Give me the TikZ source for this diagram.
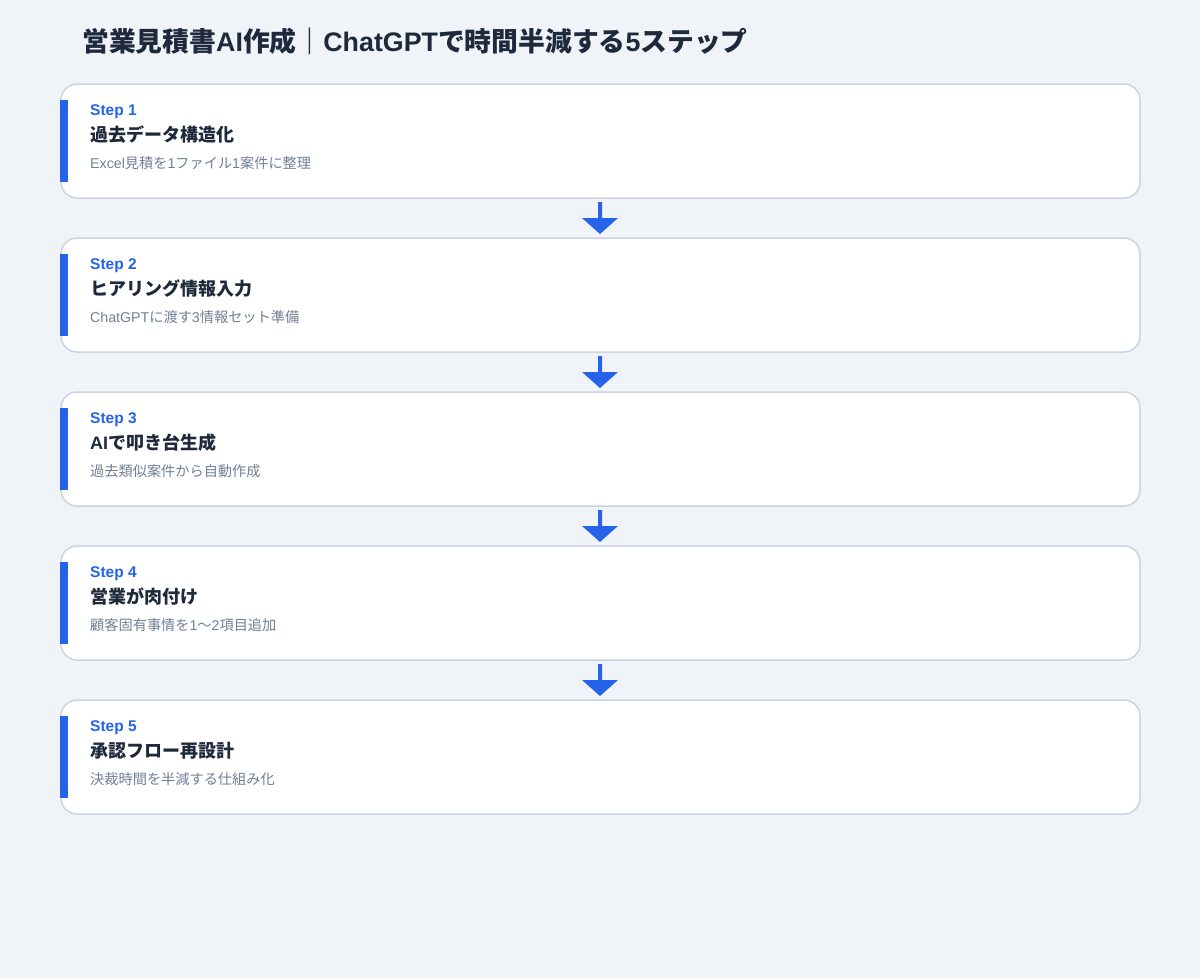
\documentclass[tikz,border=0pt]{standalone}
\usepackage{fontspec}
\setmainfont{Noto Sans CJK JP}
\newfontfamily\lat{Liberation Sans}
\definecolor{bgc}{HTML}{F0F3F8}
\definecolor{boxline}{HTML}{CBD5E1}
\definecolor{accent}{HTML}{2563EB}
\definecolor{ink}{HTML}{1E293B}
\definecolor{subink}{HTML}{718096}
\tikzset{
  stepcard/.style={draw=boxline, line width=1.5pt, fill=white, rounded corners=16pt},
  accentbar/.style={fill=accent, draw=none},
  steplabel/.style={anchor=base west, inner sep=0pt, text=accent, font=\fontsize{15.5}{18}\selectfont\lat\bfseries},
  stephead/.style={anchor=base west, inner sep=0pt, text=ink, font=\fontsize{18}{22}\selectfont\bfseries},
  stepsub/.style={anchor=base west, inner sep=0pt, text=subink, font=\fontsize{14.2}{17}\selectfont},
  titletext/.style={anchor=base west, inner sep=0pt, text=ink, font=\fontsize{26.8}{32}\selectfont\bfseries},
  flowarrow/.style={fill=accent, draw=none}
}
\begin{document}
\begin{tikzpicture}[x=1pt, y=-1pt]
\fill[bgc] (0,0) rectangle (1200,978);
\useasboundingbox (0,0) rectangle (1200,978);
\node[titletext] (title) at (82,51) {営業見積書{\lat AI}作成｜{\lat ChatGPT}で時間半減する{\lat 5}ステップ};
\foreach \i/\lab/\head/\sub in {
  0/Step 1/過去データ構造化/{\lat Excel}見積を{\lat 1}ファイル{\lat 1}案件に整理,
  1/Step 2/ヒアリング情報入力/{\lat ChatGPT}に渡す{\lat 3}情報セット準備,
  2/Step 3/{\lat AI}で叩き台生成/過去類似案件から自動作成,
  3/Step 4/営業が肉付け/顧客固有事情を{\lat 1}〜{\lat 2}項目追加,
  4/Step 5/承認フロー再設計/決裁時間を半減する仕組み化}{
  \pgfmathsetmacro{\top}{84+154*\i}
  \draw[stepcard] (61,\top) rectangle (1140,\top+114);
  \fill[accentbar] (60,\top+16) rectangle (68,\top+98);
  \node[steplabel] (lab\i) at (90,\top+31) {\lab};
  \node[stephead] (head\i) at (90,\top+57) {\head};
  \node[stepsub] (sub\i) at (90,\top+84) {\sub};
}
\foreach \i in {0,1,2,3}{
  \pgfmathsetmacro{\bot}{198+154*\i}
  \fill[flowarrow] (598,\bot+4) rectangle (602,\bot+20)
     (582,\bot+20) -- (618,\bot+20) -- (600,\bot+36) -- cycle;
}
\end{tikzpicture}
\end{document}
